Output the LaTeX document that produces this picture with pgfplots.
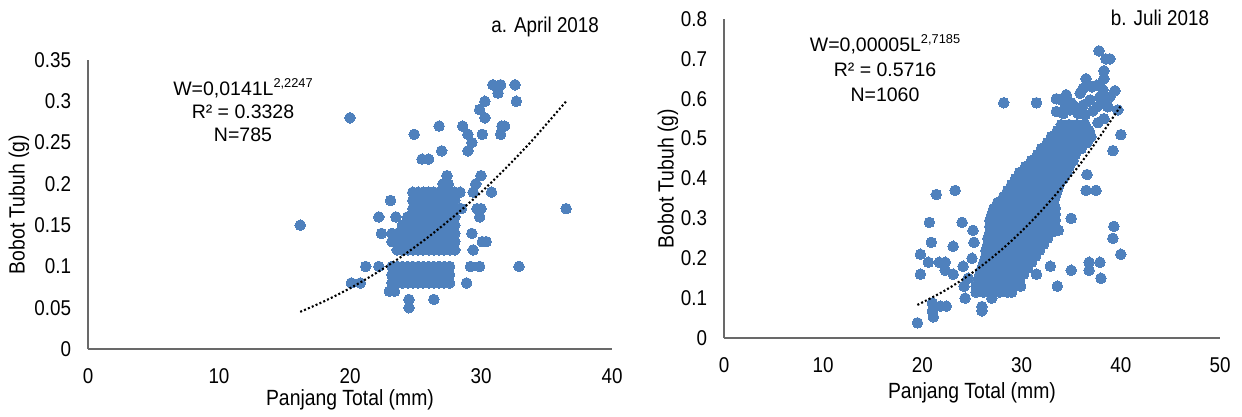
\documentclass[border=0pt]{standalone}
\usepackage{fontspec}
\setmainfont{Liberation Sans}
\newfontfamily\nar{Liberation Sans}[FakeStretch=0.88]
\usepackage{pgfplots}
\pgfplotsset{compat=1.18}
\definecolor{dotblue}{RGB}{79,129,189}
\definecolor{axgray}{RGB}{105,105,105}
\newcommand{\fs}{\fontsize{9.75bp}{11.5bp}\selectfont}
\newcommand{\fsr}{\fontsize{9.75bp}{12.5bp}\selectfont}
\newcommand{\ft}{\nar\fontsize{10.7bp}{12bp}\selectfont}
\newcommand{\fl}{\nar\fontsize{11bp}{12bp}\selectfont}
\pgfplotsset{
  myax/.style={
    scale only axis,
    clip marker paths=true,
    axis lines=left,
    axis line style={-, draw=axgray, line width=0.8bp},
    major tick length=0pt,
    tick style={draw=none},
    tick label style={font=\ft, inner sep=0pt},
    xticklabel style={anchor=north, yshift=-9.5bp},
    yticklabel style={anchor=east, xshift=-8.25bp},
    label style={font=\fl, inner sep=0pt},
    clip=false,
  },
  dots/.style={only marks, mark=*, mark size=2.65bp, mark options={draw=dotblue, fill=dotblue, line width=0pt}},
  trend/.style={black, line width=1.05bp, dash pattern=on 1bp off 1.1bp, smooth, no marks},
}

\pgfplotstableread{
x y
16.2 0.15
20.0 0.28
24.9 0.26
26.8 0.27
25.5 0.23
26.0 0.23
27.0 0.24
27.4 0.21
27.1 0.20
27.5 0.20
28.6 0.27
29.0 0.26
29.3 0.25
29.0 0.24
29.9 0.29
30.3 0.30
30.3 0.28
30.1 0.26
30.9 0.32
31.5 0.32
31.3 0.31
32.6 0.32
32.7 0.30
31.6 0.27
31.8 0.27
31.5 0.26
30.8 0.19
30.0 0.21
29.6 0.20
29.4 0.19
29.7 0.17
30.0 0.17
29.9 0.16
29.3 0.14
30.1 0.13
30.4 0.13
29.4 0.12
29.2 0.10
29.9 0.10
28.9 0.08
32.9 0.10
36.5 0.17
28.4 0.19
28.5 0.17
23.1 0.18
22.2 0.16
23.5 0.16
22.4 0.14
21.2 0.10
22.2 0.10
20.1 0.08
20.8 0.08
24.5 0.06
24.5 0.05
26.4 0.06
23.0 0.07
23.4 0.07
24.8 0.19
25.2 0.19
25.6 0.19
26.0 0.19
26.4 0.19
26.8 0.19
27.2 0.19
27.6 0.19
28.0 0.19
24.8 0.18
25.2 0.18
25.6 0.18
26.0 0.18
26.4 0.18
26.8 0.18
27.2 0.18
27.6 0.18
28.0 0.18
24.8 0.17
25.2 0.17
25.6 0.17
26.0 0.17
26.4 0.17
26.8 0.17
27.2 0.17
27.6 0.17
28.0 0.17
24.4 0.16
24.8 0.16
25.2 0.16
25.6 0.16
26.0 0.16
26.4 0.16
26.8 0.16
27.2 0.16
27.6 0.16
28.0 0.16
24.0 0.15
24.4 0.15
24.8 0.15
25.2 0.15
25.6 0.15
26.0 0.15
26.4 0.15
26.8 0.15
27.2 0.15
27.6 0.15
28.0 0.15
23.2 0.14
23.6 0.14
24.0 0.14
24.4 0.14
24.8 0.14
25.2 0.14
25.6 0.14
26.0 0.14
26.4 0.14
26.8 0.14
27.2 0.14
27.6 0.14
28.0 0.14
23.2 0.13
23.6 0.13
24.0 0.13
24.4 0.13
24.8 0.13
25.2 0.13
25.6 0.13
26.0 0.13
26.4 0.13
26.8 0.13
27.2 0.13
27.6 0.13
28.0 0.13
23.6 0.12
24.0 0.12
24.4 0.12
24.8 0.12
25.2 0.12
25.6 0.12
26.0 0.12
26.4 0.12
26.8 0.12
27.2 0.12
27.6 0.12
28.0 0.12
23.2 0.10
23.6 0.10
24.0 0.10
24.4 0.10
24.8 0.10
25.2 0.10
25.6 0.10
26.0 0.10
26.4 0.10
26.8 0.10
27.2 0.10
27.6 0.10
23.2 0.09
23.6 0.09
24.0 0.09
24.4 0.09
24.8 0.09
25.2 0.09
25.6 0.09
26.0 0.09
26.4 0.09
26.8 0.09
27.2 0.09
27.6 0.09
23.2 0.08
23.6 0.08
24.0 0.08
24.4 0.08
24.8 0.08
25.2 0.08
25.6 0.08
26.0 0.08
26.4 0.08
26.8 0.08
27.2 0.08
27.6 0.08
}\aprildata

\pgfplotstableread{
x y
16.2 0.045
18 0.0576
20 0.0736
22 0.0920
24 0.1127
26 0.1359
28 0.1616
30 0.1898
32 0.2207
34 0.2543
36.5 0.300
}\apriltrend

\pgfplotstableread{
x y
19.5 0.038
19.8 0.16
19.8 0.21
20.7 0.29
20.9 0.24
21.4 0.36
23.3 0.37
20.6 0.19
21.7 0.19
22.3 0.19
23.1 0.23
24.0 0.29
25.1 0.27
22.3 0.17
23.1 0.16
24.1 0.18
25.0 0.20
24.6 0.15
25.2 0.24
21.0 0.088
21.1 0.053
21.0 0.068
21.8 0.08
22.4 0.08
24.3 0.10
24.2 0.13
26.0 0.079
26.0 0.068
27.0 0.10
28.5 0.12
29.9 0.13
31.5 0.16
32.9 0.18
33.6 0.13
35.0 0.17
36.8 0.19
37.9 0.19
36.8 0.17
38.0 0.15
39.3 0.28
39.2 0.25
40.0 0.21
35.0 0.30
33.7 0.27
36.6 0.41
36.5 0.37
37.5 0.37
39.2 0.47
40.0 0.51
28.2 0.59
31.5 0.59
37.8 0.72
38.5 0.70
38.9 0.70
38.3 0.67
38.3 0.65
36.5 0.65
39.4 0.62
34.5 0.61
33.5 0.60
35.0 0.59
37.7 0.54
39.7 0.572
35.9 0.614
36.2 0.626
37.1 0.630
37.6 0.634
38.2 0.622
37.9 0.605
38.9 0.605
36.9 0.597
36.2 0.584
35.2 0.584
34.9 0.572
35.7 0.563
37.6 0.580
38.2 0.589
38.7 0.580
34.0 0.597
34.5 0.580
33.5 0.568
34.2 0.563
36.4 0.560
37.2 0.570
38.3 0.550
25.4 0.115
26.2 0.115
27.0 0.115
27.8 0.115
28.6 0.115
29.0 0.115
25.4 0.13
26.2 0.13
27.0 0.13
27.8 0.13
28.6 0.13
29.4 0.13
25.6 0.145
26.4 0.145
27.2 0.145
28.0 0.145
28.8 0.145
29.8 0.145
25.8 0.16
26.6 0.16
27.4 0.16
28.2 0.16
29.0 0.16
29.8 0.16
30.2 0.16
26.0 0.175
26.8 0.175
27.6 0.175
28.4 0.175
29.2 0.175
30.0 0.175
30.6 0.175
26.2 0.19
27.0 0.19
27.8 0.19
28.6 0.19
29.4 0.19
30.2 0.19
31.0 0.19
26.4 0.205
27.2 0.205
28.0 0.205
28.8 0.205
29.6 0.205
30.4 0.205
31.4 0.205
26.4 0.22
27.2 0.22
28.0 0.22
28.8 0.22
29.6 0.22
30.4 0.22
31.2 0.22
31.8 0.22
26.6 0.235
27.4 0.235
28.2 0.235
29.0 0.235
29.8 0.235
30.6 0.235
31.4 0.235
32.2 0.235
26.6 0.25
27.4 0.25
28.2 0.25
29.0 0.25
29.8 0.25
30.6 0.25
31.4 0.25
32.2 0.25
32.6 0.25
26.8 0.265
27.6 0.265
28.4 0.265
29.2 0.265
30.0 0.265
30.8 0.265
31.6 0.265
32.4 0.265
33.0 0.265
26.8 0.28
27.6 0.28
28.4 0.28
29.2 0.28
30.0 0.28
30.8 0.28
31.6 0.28
32.4 0.28
33.2 0.28
33.4 0.28
26.8 0.295
27.6 0.295
28.4 0.295
29.2 0.295
30.0 0.295
30.8 0.295
31.6 0.295
32.4 0.295
33.2 0.295
33.4 0.295
27.0 0.31
27.8 0.31
28.6 0.31
29.4 0.31
30.2 0.31
31.0 0.31
31.8 0.31
32.6 0.31
33.4 0.31
27.2 0.325
28.0 0.325
28.8 0.325
29.6 0.325
30.4 0.325
31.2 0.325
32.0 0.325
32.8 0.325
33.4 0.325
27.6 0.34
28.4 0.34
29.2 0.34
30.0 0.34
30.8 0.34
31.6 0.34
32.4 0.34
33.2 0.34
28.2 0.355
29.0 0.355
29.8 0.355
30.6 0.355
31.4 0.355
32.2 0.355
33.0 0.355
33.4 0.355
28.6 0.37
29.4 0.37
30.2 0.37
31.0 0.37
31.8 0.37
32.6 0.37
33.6 0.37
29.0 0.385
29.8 0.385
30.6 0.385
31.4 0.385
32.2 0.385
33.0 0.385
33.8 0.385
29.4 0.40
30.2 0.40
31.0 0.40
31.8 0.40
32.6 0.40
33.4 0.40
34.2 0.40
29.8 0.415
30.6 0.415
31.4 0.415
32.2 0.415
33.0 0.415
33.8 0.415
34.6 0.415
30.4 0.43
31.2 0.43
32.0 0.43
32.8 0.43
33.6 0.43
34.4 0.43
34.8 0.43
31.0 0.445
31.8 0.445
32.6 0.445
33.4 0.445
34.2 0.445
35.2 0.445
31.6 0.46
32.4 0.46
33.2 0.46
34.0 0.46
34.8 0.46
35.4 0.46
32.0 0.475
32.8 0.475
33.6 0.475
34.4 0.475
35.2 0.475
36.0 0.475
32.6 0.49
33.4 0.49
34.2 0.49
35.0 0.49
35.8 0.49
36.6 0.49
33.0 0.505
33.8 0.505
34.6 0.505
35.4 0.505
36.2 0.505
37.0 0.505
33.6 0.52
34.4 0.52
35.2 0.52
36.0 0.52
36.8 0.52
34.0 0.535
34.8 0.535
35.6 0.535
36.4 0.535
}\julidata

\pgfplotstableread{
x y
19.5 0.083
22 0.1152
24 0.1459
26 0.1815
28 0.2219
30 0.2677
32 0.3191
34 0.3762
36 0.4395
38 0.5091
40 0.582
}\julitrend

\begin{document}
\begin{tikzpicture}
\path[use as bounding box] (0,0) rectangle (621bp,-208.5bp);
% left panel
\begin{axis}[myax,
  at={(44bp,-174.5bp)}, anchor=south west,
  width=262bp, height=144.5bp,
  xmin=0, xmax=40, ymin=0, ymax=0.35,
  xtick={0,10,20,30,40}, xticklabels={0,10,20,30,40},
  ytick={0,0.05,0.1,0.15,0.2,0.25,0.3,0.35},
  yticklabels={0,0.05,0.1,0.15,0.2,0.25,0.3,0.35},
  xlabel={Panjang Total (mm)}, ylabel={Bobot Tubuh (g)},
  xlabel style={at={(axis description cs:0.5,0)}, anchor=center, yshift=-25.5bp},
  ylabel style={at={(axis description cs:0,0.5)}, anchor=center, yshift=34.5bp},
]
\addplot[dots] table[x=x,y=y] {\aprildata};
\addplot[trend] table[x=x,y=y] {\apriltrend};
\node[font=\fs, align=center, inner sep=0pt] at (axis cs:11.83,0.289)
  {W=0,0141L\raisebox{0.42em}{\fontsize{6.4bp}{6.4bp}\selectfont 2,2247}\\R² = 0.3328\\N=785};
\node[font=\ft, inner sep=0pt] at (axis cs:34.9,0.39) {a. April 2018};
\end{axis}
% right panel
\begin{axis}[myax,
  at={(362bp,-169bp)}, anchor=south west,
  width=248bp, height=159.5bp,
  xmin=0, xmax=50, ymin=0, ymax=0.8,
  xtick={0,10,20,30,40,50}, xticklabels={0,10,20,30,40,50},
  ytick={0,0.1,0.2,0.3,0.4,0.5,0.6,0.7,0.8},
  yticklabels={0,0.1,0.2,0.3,0.4,0.5,0.6,0.7,0.8},
  xlabel={Panjang Total (mm)}, ylabel={Bobot Tubuh (g)},
  xlabel style={at={(axis description cs:0.5,0)}, anchor=center, yshift=-27.5bp},
  ylabel style={at={(axis description cs:0,0.5)}, anchor=center, yshift=28bp},
]
\addplot[dots] table[x=x,y=y] {\julidata};
\addplot[trend] table[x=x,y=y] {\julitrend};
\node[font=\fsr, align=center, inner sep=0pt] at (axis cs:16.23,0.677)
  {W=0,00005L\raisebox{0.42em}{\fontsize{6.4bp}{6.4bp}\selectfont 2,7185}\\R² = 0.5716\\N=1060};
\node[font=\ft, inner sep=0pt] at (axis cs:43.95,0.8025) {b. Juli 2018};
\end{axis}
\end{tikzpicture}
\end{document}
